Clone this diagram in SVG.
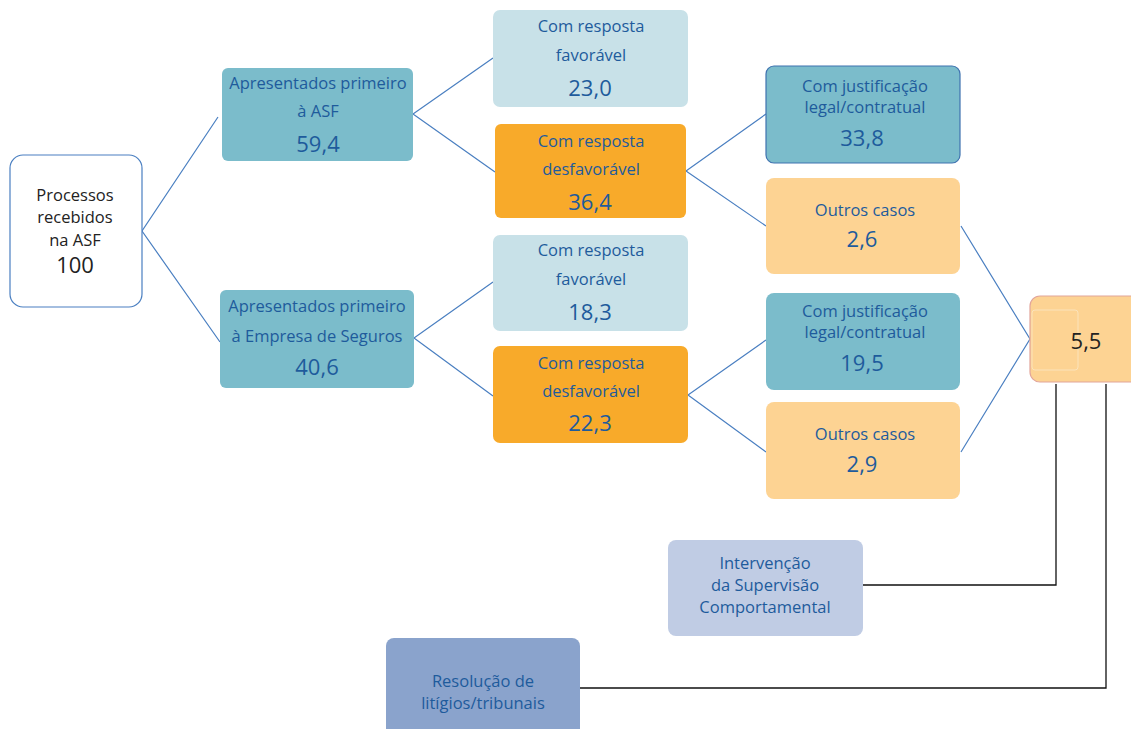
<svg xmlns="http://www.w3.org/2000/svg" width="1131" height="729" viewBox="0 0 1131 729">
<style>
.t{font-family:"Open Sans","Liberation Sans",sans-serif;fill:#1e5b9c;text-anchor:middle;font-size:16.5px}
.n{font-family:"Open Sans","Liberation Sans",sans-serif;fill:#1e5b9c;text-anchor:middle;font-size:22px}
.k{fill:#222}
.c{stroke:#4a7fc1;stroke-width:1.2;fill:none}
.b{stroke:#111;stroke-width:1.3;fill:none}
.teal{fill:#7bbccb}
.lb{fill:#c8e1e8}
.or{fill:#f8aa2a}
.pe{fill:#fdd393}
</style>
<g id="connectors">
<polyline class="c" points="218,117 142,231 220,342"/>
<polyline class="c" points="493,58 413,114 495,172"/>
<polyline class="c" points="766,114 686,171 766,226"/>
<polyline class="c" points="493,282 414,338 493,396"/>
<polyline class="c" points="766,340 688,395 766,452"/>
<polyline class="c" points="961,226 1030,339 961,452"/>
<polyline class="b" points="1056,384 1056,585 863,585"/>
<polyline class="b" points="1106,384 1106,688 580,688"/>
</g>
<g id="n-processos">
<rect x="10" y="155" width="132" height="152" rx="13" fill="#fff" stroke="#4a7fc1" stroke-width="1.2"/>
<text class="t k" x="75" y="201" font-size="18.5">Processos</text>
<text class="t k" x="75" y="223" font-size="18.5">recebidos</text>
<text class="t k" x="75" y="246" font-size="18.5">na ASF</text>
<text class="n k" x="75" y="273">100</text>
</g>
<g id="n-asf">
<rect class="teal" x="222" y="68" width="191" height="93" rx="6"/>
<text class="t" x="318" y="89">Apresentados primeiro</text>
<text class="t" x="318" y="117">à ASF</text>
<text class="n" x="318" y="152">59,4</text>
</g>
<g id="n-empresa">
<rect class="teal" x="220" y="290" width="194" height="98" rx="6"/>
<text class="t" x="317" y="312">Apresentados primeiro</text>
<text class="t" x="317" y="342">à Empresa de Seguros</text>
<text class="n" x="317" y="375">40,6</text>
</g>
<g id="n-fav1">
<rect class="lb" x="493" y="10" width="195" height="97" rx="7"/>
<text class="t" x="591" y="32">Com resposta</text>
<text class="t" x="591" y="61">favorável</text>
<text class="n" x="590" y="96">23,0</text>
</g>
<g id="n-desf1">
<rect class="or" x="495" y="124" width="191" height="94" rx="6"/>
<text class="t" x="591" y="147">Com resposta</text>
<text class="t" x="591" y="175">desfavorável</text>
<text class="n" x="590" y="210">36,4</text>
</g>
<g id="n-just1">
<rect class="teal" x="766" y="66" width="194" height="97" rx="8" stroke="#3f72b0" stroke-width="1.2"/>
<text class="t" x="865" y="92">Com justificação</text>
<text class="t" x="865" y="113">legal/contratual</text>
<text class="n" x="862" y="146">33,8</text>
</g>
<g id="n-outros1">
<rect class="pe" x="766" y="178" width="194" height="96" rx="8"/>
<text class="t" x="865" y="216">Outros casos</text>
<text class="n" x="862" y="247">2,6</text>
</g>
<g id="n-fav2">
<rect class="lb" x="493" y="235" width="195" height="96" rx="7"/>
<text class="t" x="591" y="256">Com resposta</text>
<text class="t" x="591" y="285">favorável</text>
<text class="n" x="590" y="320">18,3</text>
</g>
<g id="n-desf2">
<rect class="or" x="493" y="346" width="195" height="97" rx="7"/>
<text class="t" x="591" y="369">Com resposta</text>
<text class="t" x="591" y="397">desfavorável</text>
<text class="n" x="590" y="431">22,3</text>
</g>
<g id="n-just2">
<rect class="teal" x="766" y="293" width="194" height="97" rx="8"/>
<text class="t" x="865" y="317">Com justificação</text>
<text class="t" x="865" y="338">legal/contratual</text>
<text class="n" x="862" y="371">19,5</text>
</g>
<g id="n-outros2">
<rect class="pe" x="766" y="402" width="194" height="97" rx="8"/>
<text class="t" x="865" y="440">Outros casos</text>
<text class="n" x="862" y="472">2,9</text>
</g>
<g id="n-total">
<rect x="1030" y="296" width="120" height="86" rx="10" fill="#fdd393" stroke="#e2a59a" stroke-width="1.2"/>
<rect x="1032" y="310" width="46" height="60" rx="3" fill="none" stroke="#fbe3bb" stroke-width="1"/>
<text class="n k" x="1086" y="349" font-size="25">5,5</text>
</g>
<g id="n-intervencao">
<rect x="668" y="540" width="195" height="96" rx="8" fill="#c0cce4"/>
<text class="t" x="765" y="569">Intervenção</text>
<text class="t" x="765" y="591">da Supervisão</text>
<text class="t" x="765" y="613">Comportamental</text>
</g>
<g id="n-resolucao">
<rect x="386" y="638" width="194" height="100" rx="8" fill="#8aa3cc"/>
<text class="t" x="483" y="687">Resolução de</text>
<text class="t" x="483" y="709">litígios/tribunais</text>
</g>
</svg>
